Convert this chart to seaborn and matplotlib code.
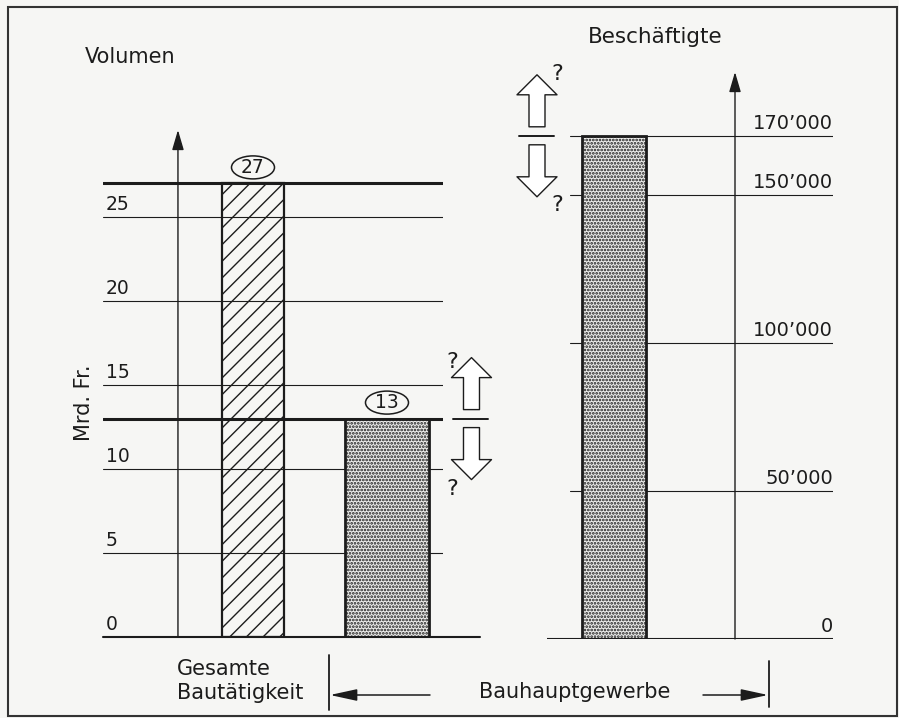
import numpy as np
import pandas as pd
import matplotlib
matplotlib.use("Agg")
import matplotlib.pyplot as plt
import matplotlib.transforms as mtransforms
from matplotlib.patches import Rectangle, Ellipse, FancyArrowPatch
from matplotlib.lines import Line2D
import seaborn as sns

# ---------------- data ----------------
volume_categories = ["Gesamte\nBautätigkeit", "Bauhauptgewerbe"]
volume_values = [27, 13]
volume_ticks = [0, 5, 10, 15, 20, 25]
volume_tick_labels = ["0", "5", "10", "15", "20", "25"]

employment_categories = ["Bauhauptgewerbe"]
employment_values = [170000]
employment_ticks = [0, 50000, 100000, 150000, 170000]
employment_tick_labels = ["0", "50\u2019000", "100\u2019000", "150\u2019000", "170\u2019000"]

volume_title = "Volumen"
volume_unit = "Mrd. Fr."
employment_title = "Besch\u00e4ftigte"

# ---------------- style ----------------
sns.set_theme(style="white")
plt.rcParams['font.family'] = ['DejaVu Sans']
plt.rcParams['hatch.linewidth'] = 1.0

W, H = 899, 718
INK = '#1c1c1c'
BG = '#f6f6f4'
DOT_BG = '#ececea'
PX = 0.72  # points per pixel at dpi 100

fig = plt.figure(figsize=(W / 100, H / 100), dpi=100, facecolor=BG)


def fx(px):
    return px / W


def fy(py):
    return 1 - py / H


def pix_shift(ax, dx, dy):
    return ax.transData + mtransforms.Affine2D().translate(dx, dy)


def dotted(p):
    p.set_facecolor(DOT_BG)
    p.set_hatch('.....')
    p.set_edgecolor(INK)
    p.set_linewidth(2.0)
    p.set_zorder(3)
    if hasattr(p, 'set_hatch_linewidth'):
        p.set_hatch_linewidth(1.3)


# frame
fig.add_artist(Rectangle((fx(8), fy(716)), fx(897) - fx(8), fy(7) - fy(716),
                         transform=fig.transFigure, fill=False, ec='#333333', lw=1.5))

# ---------------- left panel (volume) ----------------
axL = fig.add_axes([fx(103), fy(637), fx(443) - fx(103), fy(100) - fy(637)])
dfV = pd.DataFrame({'cat': volume_categories, 'val': volume_values})
sns.barplot(data=dfV, x='cat', y='val', ax=axL, color='white', width=0.5, zorder=3)
axL.set_xlim(-1.1194, 1.418)
axL.set_ylim(0, 537 / 16.8)
axL.axis('off')

widthsL = [0.4627, 0.6269]
for i, (p, w) in enumerate(zip(axL.patches, widthsL)):
    c = p.get_x() + p.get_width() / 2
    p.set_x(c - w / 2)
    p.set_width(w)
    if i == 0:
        p.set_facecolor((1, 1, 1, 0))
        p.set_edgecolor(INK)
        p.set_hatch('//')
        p.set_linewidth(1.6)
        p.set_zorder(3)
    else:
        dotted(p)

blendL = mtransforms.blended_transform_factory(axL.transAxes, axL.transData)
for t, lab in zip(volume_ticks, volume_tick_labels):
    if t == 0:
        axL.add_line(Line2D([0, (480 - 103) / 340], [0, 0], transform=blendL,
                            color=INK, lw=1.5, clip_on=False, zorder=4))
    else:
        axL.axhline(t, color=INK, lw=0.8, zorder=1)
    axL.annotate(lab, xy=(0, t), xycoords=blendL, xytext=(3, 3),
                 textcoords='offset pixels', ha='left', va='bottom',
                 fontsize=13.5, color=INK)
for v in volume_values:
    axL.axhline(v, color=INK, lw=2.2, zorder=2)

# left y axis arrow
axisL = mtransforms.blended_transform_factory(axL.transData, axL.transAxes)
axL.annotate('', xy=(-0.56, (637 - 130) / 537), xycoords=axisL,
             xytext=(-0.56, 0), textcoords=axisL,
             arrowprops=dict(arrowstyle='-|>,head_length=17,head_width=5',
                             mutation_scale=PX, color=INK, lw=1.0,
                             shrinkA=0, shrinkB=0), annotation_clip=False)

# value labels in ellipses
for p, v in zip(axL.patches, volume_values):
    c = p.get_x() + p.get_width() / 2
    tr = mtransforms.Affine2D().translate(0, 16) + mtransforms.ScaledTranslation(c, v, axL.transData)
    axL.add_patch(Ellipse((0, 0), 43, 23, transform=tr, fill=False, ec=INK,
                          lw=1.1, clip_on=False))
    axL.annotate(str(v), xy=(c, v), xytext=(0, 16), textcoords='offset pixels',
                 ha='center', va='center', fontsize=13.5, color=INK,
                 annotation_clip=False)


# uncertainty double arrow
def double_arrow(ax, xc, v, x0, x1, q_dx, q_up, q_dn):
    aprops = dict(arrowstyle='simple,head_length=20,head_width=40,tail_width=16',
                  mutation_scale=PX, fc='white', ec=INK, lw=1.0,
                  shrinkA=0, shrinkB=0)
    ax.annotate('', xy=(xc, v), xycoords=pix_shift(ax, 0, 61),
                xytext=(xc, v), textcoords=pix_shift(ax, 0, 9),
                arrowprops=aprops, annotation_clip=False)
    ax.annotate('', xy=(xc, v), xycoords=pix_shift(ax, 0, -61),
                xytext=(xc, v), textcoords=pix_shift(ax, 0, -9),
                arrowprops=aprops, annotation_clip=False)
    ax.add_line(Line2D([x0, x1], [v, v], color=INK, lw=1.4, clip_on=False))
    ax.annotate('?', xy=(xc, v), xytext=(q_dx, q_up), textcoords='offset pixels',
                ha='center', va='center', fontsize=16, color=INK,
                annotation_clip=False)
    ax.annotate('?', xy=(xc, v), xytext=(q_dx, q_dn), textcoords='offset pixels',
                ha='center', va='center', fontsize=16, color=INK,
                annotation_clip=False)


double_arrow(axL, 1.6306, volume_values[1], 1.493, 1.754, -19, 57, -70)

# ---------------- right panel (employment) ----------------
axR = fig.add_axes([fx(547), fy(639), fx(833) - fx(547), fy(60) - fy(639)])
dfE = pd.DataFrame({'cat': employment_categories, 'val': employment_values})
sns.barplot(data=dfE, x='cat', y='val', ax=axR, color='white', width=0.8, zorder=3)
axR.set_xlim(-0.8375, 2.7375)
axR.set_ylim(0, 579 / 148 * 50000)
axR.axis('off')
for p in axR.patches:
    dotted(p)

blendR = mtransforms.blended_transform_factory(axR.transAxes, axR.transData)
for t, lab in zip(employment_ticks, employment_tick_labels):
    if t == 0:
        axR.axhline(0, color=INK, lw=1.5, zorder=4)
    else:
        axR.axhline(t, xmin=(570 - 547) / 286, xmax=1, color=INK, lw=0.8, zorder=1)
    axR.annotate(lab, xy=(1, t), xycoords=blendR, xytext=(0, 3),
                 textcoords='offset pixels', ha='right', va='bottom',
                 fontsize=14, color=INK)

axisR = mtransforms.blended_transform_factory(axR.transData, axR.transAxes)
axR.annotate('', xy=(1.5125, (639 - 72) / 579), xycoords=axisR,
             xytext=(1.5125, 0), textcoords=axisR,
             arrowprops=dict(arrowstyle='-|>,head_length=17,head_width=5',
                             mutation_scale=PX, color=INK, lw=1.0,
                             shrinkA=0, shrinkB=0), annotation_clip=False)

double_arrow(axR, -0.9625, employment_values[0], -1.1875, -0.75, 20, 62, -69)

# ---------------- titles and labels ----------------
fig.text(fx(85), fy(63), volume_title, ha='left', va='baseline', fontsize=15, color=INK)
fig.text(fx(655), fy(43), employment_title, ha='center', va='baseline', fontsize=15.5, color=INK)
fig.text(fx(84), fy(403), volume_unit, ha='center', va='center', rotation=90,
         fontsize=15, color=INK)

fig.text(fx(177), fy(681), volume_categories[0], ha='left', va='center',
         multialignment='left', fontsize=15, color=INK, linespacing=1.2)
fig.text(fx(479), fy(692), volume_categories[1], ha='left', va='center',
         fontsize=15, color=INK)

# bracket arrows at the bottom
fig.add_artist(Line2D([fx(329), fx(329)], [fy(655), fy(710)], transform=fig.transFigure,
                      color=INK, lw=1.3))
fig.add_artist(Line2D([fx(769), fx(769)], [fy(661), fy(707)], transform=fig.transFigure,
                      color=INK, lw=1.3))
fig.add_artist(FancyArrowPatch((fx(430), fy(695)), (fx(330), fy(695)),
                               transform=fig.transFigure,
                               arrowstyle='-|>,head_length=23,head_width=5',
                               mutation_scale=PX, color=INK, lw=1.1,
                               shrinkA=0, shrinkB=0))
fig.add_artist(FancyArrowPatch((fx(703), fy(695)), (fx(768), fy(695)),
                               transform=fig.transFigure,
                               arrowstyle='-|>,head_length=23,head_width=5',
                               mutation_scale=PX, color=INK, lw=1.1,
                               shrinkA=0, shrinkB=0))

fig.savefig('out.png', dpi=100, facecolor=BG)
